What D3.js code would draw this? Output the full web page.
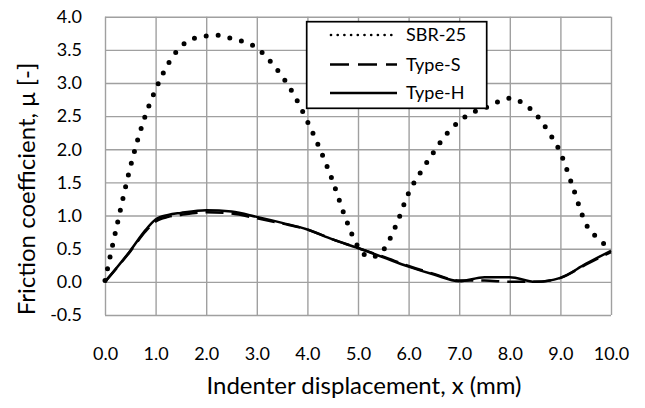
<!DOCTYPE html>
<html><head><meta charset="utf-8">
<script src="https://cdn.jsdelivr.net/npm/d3@7"></script>
<style>body{margin:0;background:#fff}svg{display:block}text{font-family:Lato,"Open Sans",sans-serif;fill:#000}</style>
</head><body>
<svg id="c" width="645" height="408"></svg>
<script>
const xTicks = [0,1,2,3,4,5,6,7,8,9,10];
const yTicks = [-0.5,0,0.5,1.0,1.5,2.0,2.5,3.0,3.5,4.0];
const seriesNames = ["SBR-25","Type-S","Type-H"];
const sbrX = [0,0.25,0.5,0.75,1.0,1.25,1.5,1.75,2.0,2.25,2.5,2.75,3.0,3.25,3.5,3.75,4.0,4.25,4.5,4.75,5.0,5.25,5.5,5.75,6.0,6.25,6.5,6.75,7.0,7.25,7.5,7.75,8.0,8.25,8.5,8.75,9.0,9.25,9.5,9.75,10.0];
const sbrY = [0.02,0.90,1.73,2.40,2.90,3.29,3.55,3.67,3.71,3.72,3.67,3.62,3.53,3.34,3.10,2.80,2.42,2.00,1.52,0.97,0.53,0.37,0.48,0.85,1.34,1.67,1.96,2.23,2.42,2.55,2.62,2.71,2.77,2.70,2.54,2.28,1.95,1.42,0.88,0.65,0.50];
const typeX = [0,0.5,0.8,1.0,1.25,1.5,2.0,2.5,3.0,3.5,4.0,4.5,5.0,5.5,6.0,6.5,7.0,7.5,8.0,8.5,9.0,9.5,10.0];
const typeSY = [0,0.46,0.76,0.91,0.98,1.01,1.05,1.03,0.96,0.88,0.79,0.64,0.51,0.38,0.24,0.12,0.02,0.02,0.0,0.0,0.06,0.26,0.45];
const typeHY = [0,0.47,0.78,0.94,1.01,1.04,1.08,1.06,0.98,0.89,0.79,0.64,0.51,0.37,0.23,0.11,0.01,0.07,0.07,0.0,0.06,0.27,0.47];

const svg = d3.select("#c");
const x = d3.scaleLinear().domain([0,10]).range([105,611]);
const y = d3.scaleLinear().domain([-0.5,4.0]).range([315,16.7]);
const grid = "#a0a0a0";

// grid
const gx = svg.append("g").attr("transform","translate(0,315)")
  .call(d3.axisBottom(x).tickValues(xTicks).tickSize(-(315-16.7)).tickFormat(d=>d.toFixed(1)).tickPadding(32));
const gy = svg.append("g").attr("transform","translate(105,0)")
  .call(d3.axisLeft(y).tickValues(yTicks).tickSize(-(611-105)).tickFormat(d=>d.toFixed(1)).tickPadding(23));
[gx,gy].forEach(g=>{
  g.select(".domain").remove();
  g.selectAll(".tick line").attr("stroke",grid).attr("stroke-width",1.4);
  g.selectAll(".tick text").attr("font-size",18).attr("font-family","Lato").attr("fill","#000");
});

const line = d3.line().x(d=>x(d[0])).y(d=>y(d[1])).curve(d3.curveMonotoneX);
const plot = svg.append("g");
plot.append("path").datum(typeX.map((v,i)=>[v,typeSY[i]]))
  .attr("d",line).attr("fill","none").attr("stroke","#000").attr("stroke-width",2.5).attr("stroke-dasharray","18,8");
plot.append("path").datum(typeX.map((v,i)=>[v,typeHY[i]]))
  .attr("d",line).attr("fill","none").attr("stroke","#000").attr("stroke-width",2.5);
plot.append("path").datum(sbrX.map((v,i)=>[v,sbrY[i]]))
  .attr("d",line).attr("fill","none").attr("stroke","#000").attr("stroke-width",5)
  .attr("stroke-linecap","round").attr("stroke-dasharray","0,12");

// axis titles
svg.append("text").attr("x",364).attr("y",394).attr("text-anchor","middle").attr("font-size",24).text("Indenter displacement, x (mm)");
svg.append("text").attr("transform","translate(35,189) rotate(-90)").attr("text-anchor","middle").attr("font-size",24).text("Friction coefficient, μ [-]");

// legend
const lg = svg.append("g");
lg.append("rect").attr("x",306.7).attr("y",21.7).attr("width",180).attr("height",86.6).attr("fill","#fff").attr("stroke","#000").attr("stroke-width",1.7);
const styles = [
  {w:2.7, dash:"0,6.7", cap:"round"},
  {w:2.5, dash:"19,9", cap:"butt"},
  {w:2.5, dash:null, cap:"butt"}
];
const rowY = [35,64.5,93];
seriesNames.forEach((n,i)=>{
  const l = lg.append("line").attr("x1",i===0?331:330).attr("x2",397).attr("y1",rowY[i]).attr("y2",rowY[i])
    .attr("stroke","#000").attr("stroke-width",styles[i].w).attr("stroke-linecap",styles[i].cap);
  if(styles[i].dash) l.attr("stroke-dasharray",styles[i].dash);
  lg.append("text").attr("x",406).attr("y",rowY[i]).attr("dy","0.35em").attr("font-size",18).text(n);
});
</script>
</body></html>
